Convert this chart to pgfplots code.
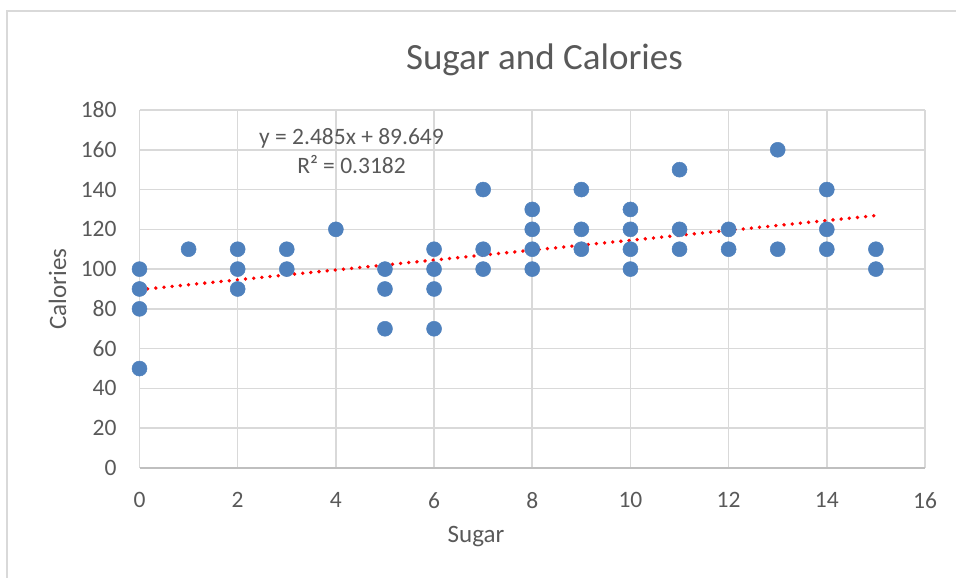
\documentclass[border=0pt]{standalone}
\usepackage{pgfplots}
\pgfplotsset{compat=1.18}
\usepackage{fontspec}
\setmainfont{Carlito}
\definecolor{txtgray}{HTML}{595959}
\definecolor{gridgray}{HTML}{D9D9D9}
\definecolor{axgray}{HTML}{BFBFBF}
\definecolor{ptblue}{HTML}{4F81BD}
\begin{document}
\begin{tikzpicture}[x=1pt,y=1pt]
\useasboundingbox (0,0) rectangle (956,578);
\draw[gridgray, line width=1.5pt] (7,0) -- (7,567) -- (956,567);
\begin{axis}[
  at={(139.5pt,110pt)}, anchor=south west,
  scale only axis, width=785.5pt, height=358pt,
  xmin=0, xmax=16, ymin=0, ymax=180,
  xtick={0,2,...,16}, ytick={0,20,...,180},
  grid=major, major grid style={gridgray, line width=1.6pt},
  axis line style={draw=none},
  major tick length=0pt,
  /pgf/number format/assume math mode=true,
  ticklabel style={font=\fontsize{23.5}{28}\selectfont, text=txtgray, inner sep=0pt},
  xticklabel style={anchor=north, yshift=-24pt},
  yticklabel style={anchor=east, xshift=-22.8pt},
  clip=false,
]
\draw[axgray, line width=1.6pt] (axis cs:0,0) -- (axis cs:16,0);
\addplot[only marks, mark=*, mark size=7.5pt, mark options={fill=ptblue, draw=ptblue, line width=0.5pt}] coordinates {
(0,100) (0,90) (0,80) (0,50)
(1,110)
(2,110) (2,100) (2,90)
(3,110) (3,100)
(4,120)
(5,100) (5,90) (5,70)
(6,110) (6,100) (6,90) (6,70)
(7,140) (7,110) (7,100)
(8,130) (8,120) (8,110) (8,100)
(9,140) (9,120) (9,110)
(10,130) (10,120) (10,110) (10,100)
(11,150) (11,120) (11,110)
(12,120) (12,110)
(13,160) (13,110)
(14,140) (14,120) (14,110)
(15,110) (15,100)
};
\addplot[red, line width=3.8pt, line cap=round, dash pattern=on 0pt off 8.2pt, no marks] coordinates {(0,89.649) (15,126.924)};
\end{axis}
\node[anchor=base, text=txtgray, font=\fontsize{37}{44}\selectfont, inner sep=0pt] at (544.5,508) {Sugar and Calories};
\node[anchor=base, text=txtgray, font=\fontsize{23.5}{28}\selectfont, inner sep=0pt] at (351.5,433) {y = 2.485x + 89.649};
\node[anchor=base, text=txtgray, font=\fontsize{23.5}{28}\selectfont, inner sep=0pt] at (351.5,404.7) {R² = 0.3182};
\node[anchor=base, text=txtgray, font=\fontsize{25}{30}\selectfont, inner sep=0pt] at (476,35) {Sugar};
\node[anchor=base, rotate=90, text=txtgray, font=\fontsize{25}{30}\selectfont, inner sep=0pt] at (66,289) {Calories};
\end{tikzpicture}
\end{document}
